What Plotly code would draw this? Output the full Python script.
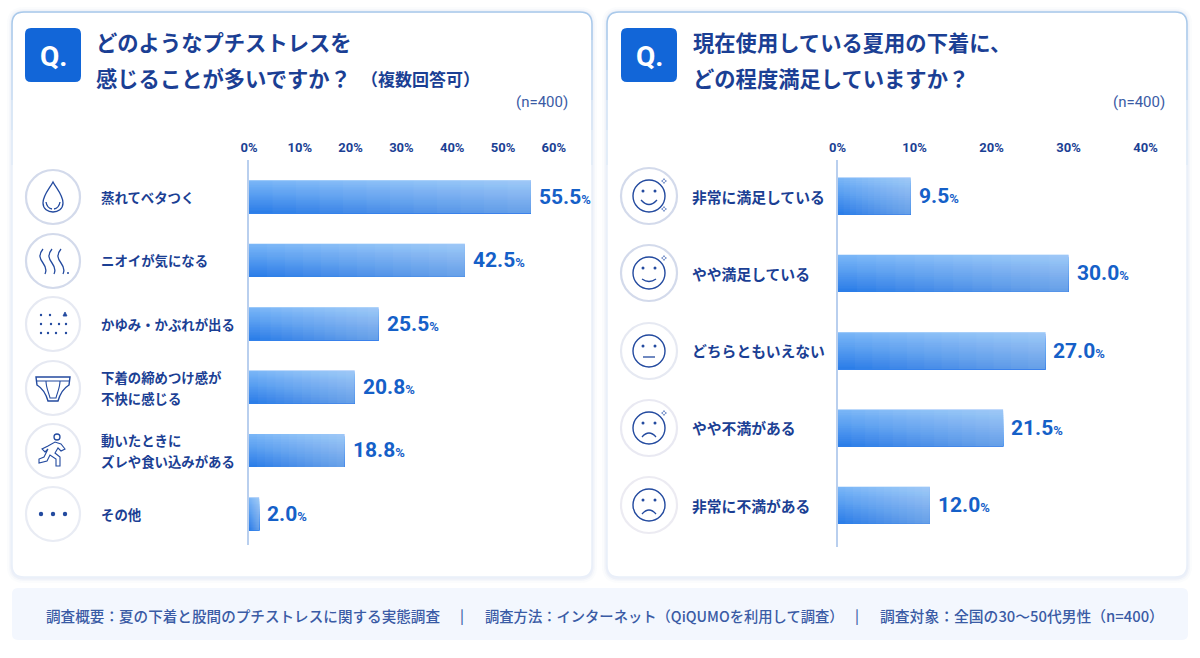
import plotly.graph_objects as go

W, H = 1200, 658

# Survey results
q1_categories = ["蒸れてベタつく", "ニオイが気になる", "かゆみ・かぶれが出る",
                 "下着の締めつけ感が<br>不快に感じる", "動いたときに<br>ズレや食い込みがある", "その他"]
q1_values = [55.5, 42.5, 25.5, 20.8, 18.8, 2.0]
q1_ticks = [0, 10, 20, 30, 40, 50, 60]

q2_categories = ["非常に満足している", "やや満足している", "どちらともいえない", "やや不満がある", "非常に不満がある"]
q2_values = [9.5, 30.0, 27.0, 21.5, 12.0]
q2_ticks = [0, 10, 20, 30, 40]

NAVY = "#1b3f94"
BLUE = "#1560c8"
SOFT = "#3a5ba5"
ICON = "#234a9f"
JP = "Noto Sans CJK JP"
NUM = "Roboto, sans-serif"
PAD = 2  # annotation boxes inset their text by this many pixels


def px(x):
    return x / W


def py(y):
    return 1 - y / H


def to_path(cmds):
    """Build an SVG path in paper units from (command, x, y, x, y, ...) tuples in pixels."""
    out = []
    for c in cmds:
        nums = c[1:]
        pts = [f"{px(nums[i]):.5f},{py(nums[i + 1]):.5f}" for i in range(0, len(nums), 2)]
        out.append(c[0] + " ".join(pts))
    return " ".join(out)


def round_rect(x0, y0, x1, y1, r):
    return to_path([("M", x0 + r, y0), ("L", x1 - r, y0), ("Q", x1, y0, x1, y0 + r), ("L", x1, y1 - r),
                    ("Q", x1, y1, x1 - r, y1), ("L", x0 + r, y1), ("Q", x0, y1, x0, y1 - r), ("L", x0, y0 + r),
                    ("Q", x0, y0, x0 + r, y0), ("Z",)])


shapes = []
annotations = []


def add_path(cmds, color=ICON, width=1.3, fill=None, layer="above"):
    shapes.append(dict(type="path", xref="paper", yref="paper", path=to_path(cmds), layer=layer,
                       line=dict(color=color, width=width), fillcolor=fill or "rgba(0,0,0,0)"))


def add_circle(cx, cy, r, color=ICON, width=1.3, fill=None, layer="above"):
    shapes.append(dict(type="circle", xref="paper", yref="paper", x0=px(cx - r), x1=px(cx + r),
                       y0=py(cy + r), y1=py(cy - r), layer=layer,
                       line=dict(color=color, width=width), fillcolor=fill or "rgba(0,0,0,0)"))


def add_dot(cx, cy, r=1.2):
    add_circle(cx, cy, r, color=ICON, width=0, fill=ICON)


def add_text(x, y, text, size, color=NAVY, anchor="left", weight=700, family=JP):
    nudge = {"left": -PAD, "right": PAD, "center": 0}[anchor]
    annotations.append(dict(xref="paper", yref="paper", x=px(x + nudge), y=py(y), text=text, showarrow=False,
                            xanchor=anchor, yanchor="middle", align="left",
                            font=dict(family=family, size=size, color=color, weight=weight)))


def add_card(x0, y0, x1, y1):
    # soft drop shadow
    for grow, alpha in ((5, 0.05), (3, 0.07), (1.5, 0.10)):
        shapes.append(dict(type="path", xref="paper", yref="paper", layer="below",
                           path=round_rect(x0 - grow, y0 - grow, x1 + grow, y1 + grow + 1, 12 + grow),
                           line=dict(width=0), fillcolor=f"rgba(170,190,225,{alpha})"))
    shapes.append(dict(type="path", xref="paper", yref="paper", layer="below", path=round_rect(x0, y0, x1, y1, 12),
                       line=dict(color="#e9eff9", width=1.5), fillcolor="#ffffff"))
    # the outline is stronger along the top and fades down the sides
    add_path([("M", x0, 40), ("L", x0, y0 + 12), ("Q", x0, y0, x0 + 12, y0), ("L", x1 - 12, y0),
              ("Q", x1, y0, x1, y0 + 12), ("L", x1, 40)], color="#a9c9ea", width=1.5, layer="below")
    for top, bottom, color in ((40, 70, "#b7d2ee"), (70, 100, "#c6dbf2"), (100, 130, "#d5e4f5"), (130, 165, "#e0ebf7")):
        add_path([("M", x0, bottom), ("L", x0, top)], color=color, width=1.5, layer="below")
        add_path([("M", x1, bottom), ("L", x1, top)], color=color, width=1.5, layer="below")


def add_badge(x0, y0, x1, y1):
    shapes.append(dict(type="path", xref="paper", yref="paper", layer="below", path=round_rect(x0, y0, x1, y1, 6),
                       line=dict(width=0), fillcolor="#1266d8"))
    add_text((x0 + x1) / 2, (y0 + y1) / 2 + 1, "Q.", 28, color="#ffffff", anchor="center", family="Roboto, sans-serif")


def ring(cx, cy, r, color):
    add_circle(cx, cy, r, color=color, width=2.2, fill="#ffffff")


def sparkle(x, y, s=3):
    add_path([("M", x, y - s), ("L", x + s * 0.35, y - s * 0.35), ("L", x + s, y), ("L", x + s * 0.35, y + s * 0.35),
              ("L", x, y + s), ("L", x - s * 0.35, y + s * 0.35), ("L", x - s, y), ("L", x - s * 0.35, y - s * 0.35), ("Z",)],
             color="#5f7fc0", width=0.8)


def icon_drop(cx, cy):
    add_path([("M", cx, cy - 15), ("C", cx + 3, cy - 9, cx + 10, cy - 2, cx + 10, cy + 6),
              ("C", cx + 10, cy + 12, cx + 5, cy + 15, cx, cy + 15), ("C", cx - 5, cy + 15, cx - 10, cy + 12, cx - 10, cy + 6),
              ("C", cx - 10, cy - 2, cx - 3, cy - 9, cx, cy - 15), ("Z",)])
    add_path([("M", cx - 7, cy + 5), ("Q", cx - 6, cy + 11, cx - 1, cy + 12)])
    add_path([("M", cx + 7, cy + 5), ("Q", cx + 6, cy + 11, cx + 1, cy + 12)])


def icon_steam(cx, cy):
    for dx in (-10, -1, 8):
        x = cx + dx
        add_path([("M", x, cy - 12), ("C", x - 5, cy - 6, x - 3, cy - 2, x, cy + 2), ("C", x + 3, cy + 6, x + 4, cy + 9, x + 2, cy + 13)])
    add_dot(cx + 15, cy + 12, 1.0)


def icon_dots(cx, cy):
    for dy, dxs in ((-9, (-12, -3, 12)), (0, (-12, -2, 6, 13)), (9, (-12, -5, 3, 13))):
        for dx in dxs:
            add_dot(cx + dx, cy + dy, 1.2)
    add_path([("M", cx + 12, cy - 12), ("L", cx + 14, cy - 8), ("L", cx + 10, cy - 8), ("Z",)], width=0.8, fill=ICON)


def icon_briefs(cx, cy):
    add_path([("M", cx - 17, cy - 11), ("L", cx + 17, cy - 11), ("L", cx + 16, cy - 3),
              ("C", cx + 11, cy, cx + 7, cy + 6, cx + 5, cy + 13), ("L", cx - 5, cy + 13),
              ("C", cx - 7, cy + 6, cx - 11, cy, cx - 16, cy - 3), ("Z",)], width=1.4)
    add_path([("M", cx - 16.5, cy - 7), ("L", cx + 16.5, cy - 7)], width=1.1)
    add_path([("M", cx - 7, cy - 7), ("C", cx - 7, cy, cx - 4, cy + 5, cx - 3, cy + 10), ("L", cx + 3, cy + 10),
              ("C", cx + 4, cy + 5, cx + 7, cy, cx + 7, cy - 7)], width=1.1)


def icon_runner(cx, cy):
    add_circle(cx + 4, cy - 14, 3)
    add_path([("M", cx - 5, cy - 5), ("L", cx + 2, cy - 9), ("L", cx + 8, cy - 7), ("L", cx + 12, cy - 2), ("L", cx + 8, cy),
              ("L", cx + 5, cy - 3), ("L", cx + 2, cy + 2), ("L", cx + 7, cy + 6), ("L", cx + 7, cy + 15), ("L", cx + 3, cy + 15),
              ("L", cx + 3, cy + 8), ("L", cx - 3, cy + 4), ("L", cx - 6, cy + 10), ("L", cx - 14, cy + 12), ("L", cx - 14, cy + 8),
              ("L", cx - 9, cy + 6), ("L", cx - 5, cy - 2), ("L", cx - 8, cy + 1), ("L", cx - 11, cy - 2), ("Z",)], width=1.1)


def icon_more(cx, cy):
    for dx in (-12, 0, 12):
        add_dot(cx + dx, cy, 2.2)


def icon_face(cx, cy, mouth, sparkles=0):
    add_circle(cx, cy, 16, width=1.4)
    add_dot(cx - 6, cy - 5, 1.5)
    add_dot(cx + 6, cy - 5, 1.5)
    if mouth == "big":
        add_path([("M", cx - 8, cy + 4), ("Q", cx, cy + 13, cx + 8, cy + 4)])
    elif mouth == "smile":
        add_path([("M", cx - 7, cy + 6), ("Q", cx, cy + 11, cx + 7, cy + 6)])
    elif mouth == "flat":
        add_path([("M", cx - 6, cy + 6), ("L", cx + 6, cy + 6)])
    else:
        add_path([("M", cx - 7, cy + 9), ("Q", cx, cy + 1, cx + 7, cy + 9)])
    if sparkles >= 1:
        sparkle(cx + 15, cy - 15, 2.5)
    if sparkles >= 2:
        sparkle(cx + 15, cy + 13, 2.5)


# Panels, badges and footer band
add_card(12, 12, 592, 577)
add_card(607, 12, 1187, 577)
add_badge(25, 28, 81, 82)
add_badge(621, 28, 677, 82)
shapes.append(dict(type="path", xref="paper", yref="paper", layer="below", path=round_rect(12, 588, 1188, 640, 6),
                   line=dict(width=0), fillcolor="#f3f7fe"))

# Headings
add_text(96, 41, "どのようなプチストレスを", 21.3)
add_text(96, 77, "感じることが多いですか？", 21.3)
add_text(361, 78, "（複数回答可）", 17)
add_text(568, 102, "(n=400)", 15, color=SOFT, anchor="right", weight=400, family="Roboto, sans-serif")
add_text(693, 41, "現在使用している夏用の下着に、", 21.3)
add_text(693, 77, "どの程度満足していますか？", 21.3)
add_text(1165, 102, "(n=400)", 15, color=SOFT, anchor="right", weight=400, family="Roboto, sans-serif")

# Footer notes
add_text(46, 615, "調査概要：夏の下着と股間のプチストレスに関する実態調査", 14.6, color=SOFT, weight=500)
add_text(462, 615, "|", 14, color=SOFT, anchor="center", weight=500)
add_text(485, 615, "調査方法：インターネット（QiQUMOを利用して調査）", 14.3, color=SOFT, weight=500)
add_text(857, 615, "|", 14, color=SOFT, anchor="center", weight=500)
add_text(880, 615, "調査対象：全国の30〜50代男性（n=400）", 14.8, color=SOFT, weight=500)

# Row icons
q1_rows = [197, 261, 324, 388, 451, 514]
q2_rows = [196, 273, 351, 428, 505]
q1_rings = ["#d3daeb", "#d3daeb", "#e6e9f2", "#e6e9f2", "#e6e9f2", "#e9ecf4"]
q2_rings = ["#d3daeb", "#d3daeb", "#e6e9f2", "#e9e9f2", "#ecebf2"]
for cy, edge, draw in zip(q1_rows, q1_rings, (icon_drop, icon_steam, icon_dots, icon_briefs, icon_runner, icon_more)):
    ring(53, cy, 27, edge)
    draw(53, cy)
for cy, edge, (mouth, sp) in zip(q2_rows, q2_rings, (("big", 2), ("smile", 1), ("flat", 0), ("sad", 1), ("sad", 0))):
    ring(649, cy, 28, edge)
    icon_face(649, cy, mouth, sp)


def mix(a, b, t):
    return "#" + "".join(f"{round(a[i] + (b[i] - a[i]) * t):02x}" for i in range(3))


TOP = (118, 180, 247)
BOTTOM = (38, 122, 232)
ROWS = 20
FADES = 12


def add_bars(fig, cats, vals, thickness, xa, ya):
    # Horizontal bars shaded top to bottom: each layer paints from its own top edge to the bar's bottom
    for j in range(ROWS):
        top = -thickness / 2 + j * thickness / ROWS
        fig.add_trace(go.Bar(y=cats, x=vals, orientation="h", xaxis=xa, yaxis=ya, hoverinfo="skip", showlegend=False,
                             width=thickness / 2 - top, offset=top,
                             marker=dict(color=mix(TOP, BOTTOM, j / (ROWS - 1)), line=dict(width=0))))
    # A pale veil builds up toward the tip of each bar
    for k in range(FADES):
        f = k / FADES
        fig.add_trace(go.Bar(y=cats, x=[v * (1 - f) for v in vals], base=[v * f for v in vals], orientation="h",
                             xaxis=xa, yaxis=ya, hoverinfo="skip", showlegend=False, width=thickness,
                             marker=dict(color="rgba(255,255,255,0.03)", line=dict(width=0))))


def add_labels(cats, vals, xa, ya, label_x, size, line_gap):
    for cat, v in zip(cats, vals):
        lines = cat.split("<br>")
        for i, line in enumerate(lines):
            shift = (len(lines) - 1) / 2 * line_gap - i * line_gap
            annotations.append(dict(xref="paper", yref=ya, x=px(label_x - PAD), y=cat, yshift=shift, text=line, showarrow=False,
                                    xanchor="left", yanchor="middle",
                                    font=dict(family=JP, size=size, color=NAVY, weight=700)))
        annotations.append(dict(xref=xa, yref=ya, x=v, y=cat, xshift=6, text=f'{v:.1f}<span style="font-size:13px">%</span>',
                                showarrow=False, xanchor="left", yanchor="middle",
                                font=dict(family=NUM, size=21, color=BLUE, weight=700)))


fig = go.Figure()
add_bars(fig, q1_categories, q1_values, 33 / 63.4, "x", "y")
add_bars(fig, q2_categories, q2_values, 37 / 77.3, "x2", "y2")
add_labels(q1_categories, q1_values, "x", "y", 101, 13.4, 21)
add_labels(q2_categories, q2_values, "x2", "y2", 692, 14.8, 21)

axis_x = dict(side="top", showgrid=False, zeroline=False, showline=False, ticks="", ticklabelstandoff=4,
              tickfont=dict(family=NUM, size=13, color=NAVY, weight=700), fixedrange=True)
axis_y = dict(type="category", showgrid=False, zeroline=False, showline=True, linecolor="#b9cfee", linewidth=1.5,
              ticks="", showticklabels=False, fixedrange=True)

fig.update_layout(
    width=W, height=H, margin=dict(l=0, r=0, t=0, b=0, autoexpand=False), paper_bgcolor="#ffffff",
    plot_bgcolor="rgba(0,0,0,0)", barmode="overlay", showlegend=False, shapes=shapes, annotations=annotations,
    xaxis=dict(axis_x, domain=[px(249), px(567)], range=[0, 62.6], anchor="y", tickvals=q1_ticks,
               ticktext=[f"{t}%" for t in q1_ticks]),
    yaxis=dict(axis_y, domain=[py(545), py(160)], anchor="x", categoryorder="array", categoryarray=q1_categories,
               range=[5.49, -0.58]),
    xaxis2=dict(axis_x, domain=[px(837.5), px(1161)], range=[0, 42], anchor="y2", tickvals=q2_ticks,
                ticktext=[f"{t}%" for t in q2_ticks]),
    yaxis2=dict(axis_y, domain=[py(547), py(160)], anchor="x2", categoryorder="array", categoryarray=q2_categories,
                range=[4.54, -0.466]),
)

fig.write_html("out.html", config={"displayModeBar": False})
